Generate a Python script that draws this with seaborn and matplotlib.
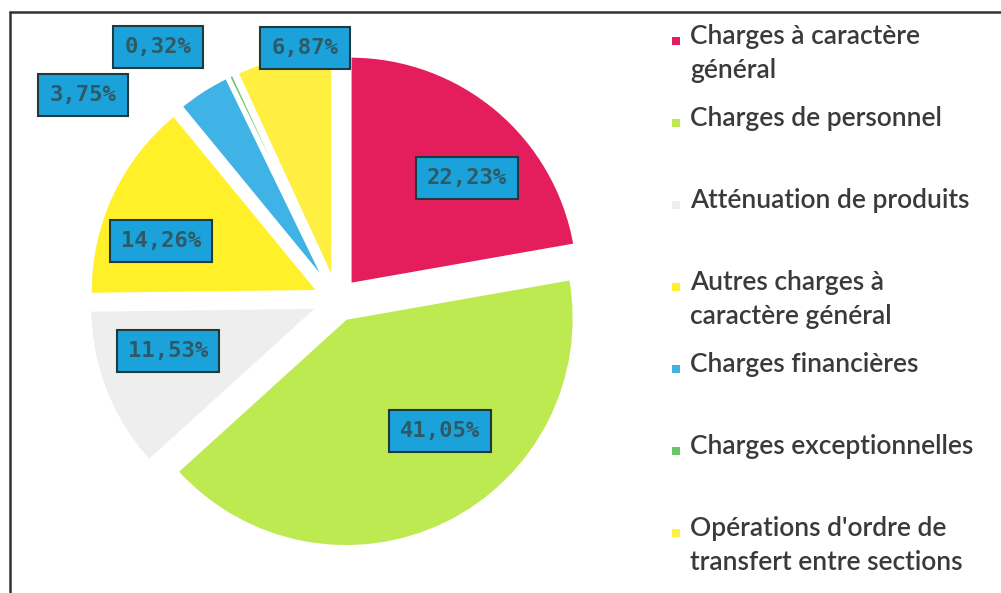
"""
Exploded pie of operating expenses by category, Excel-style value boxes.
"""

import matplotlib.pyplot as plt
import seaborn as sns
from matplotlib.patches import Rectangle

categories = [
    "Charges à caractère\ngénéral",
    "Charges de personnel",
    "Atténuation de produits",
    "Autres charges à\ncaractère général",
    "Charges financières",
    "Charges exceptionnelles",
    "Opérations d'ordre de\ntransfert entre sections",
]
shares = [22.23, 41.05, 11.53, 14.26, 3.75, 0.32, 6.87]
share_labels = ["22,23%", "41,05%", "11,53%", "14,26%", "3,75%", "0,32%", "6,87%"]
colors = ["#E41E5C", "#BCEA50", "#EEEEEE", "#FFF02A", "#3FB2E6", "#66C866", "#FFEF40"]

# layout (pixels of the 1001x593 canvas)
W, H = 1001, 593
CX, CY, R = 337, 300, 228
LABEL_PX = [(467, 178), (440, 431), (168, 351), (161, 241), (83, 95), (158, 47), (305, 48)]

sns.set_theme(style="white")
plt.rcParams["font.family"] = ["Lato", "DejaVu Sans"]

fig = plt.figure(figsize=(W / 100, H / 100), dpi=100)
L = 1.4
side = 2 * L * R
ax = fig.add_axes([(CX - side / 2) / W, (H - CY - side / 2) / H, side / W, side / H])
ax.pie(
    shares,
    colors=colors,
    startangle=90,
    counterclock=False,
    explode=[0.09] * len(shares),
    wedgeprops={"edgecolor": "white", "linewidth": 2},
)
ax.set_xlim(-L, L)
ax.set_ylim(-L, L)
ax.set_aspect("equal")
ax.axis("off")

for text, (px, py) in zip(share_labels, LABEL_PX):
    ax.text(
        (px - CX) / R, (CY - py) / R, text,
        ha="center", va="center", fontsize=16, fontweight="bold", color="#2E5A66",
        family=["DejaVu Sans Mono", "DejaVu Sans"],
        bbox={"boxstyle": "square,pad=0.5", "facecolor": "#1CA2DA", "edgecolor": "#1E3A3E", "linewidth": 1.5},
    )

# legend, drawn Excel-style with equal slots and top-aligned text
for i, (label, color) in enumerate(zip(categories, colors)):
    top = 24 + i * 82
    fig.patches.append(Rectangle((672 / W, 1 - (top + 21) / H), 8 / W, 8 / H,
                                 transform=fig.transFigure, facecolor=color, edgecolor="none"))
    fig.text(690 / W, 1 - top / H, label, ha="left", va="top", fontsize=19,
             fontweight="semibold", color="#3A3A3A", linespacing=1.45)

# outer frame
fig.add_artist(plt.Line2D([10 / W, 1], [1 - 12 / H, 1 - 12 / H], color="#333333", lw=1.8))
fig.add_artist(plt.Line2D([10 / W, 10 / W], [0, 1 - 12 / H], color="#333333", lw=1.8))

fig.savefig("out.png", dpi=100)
